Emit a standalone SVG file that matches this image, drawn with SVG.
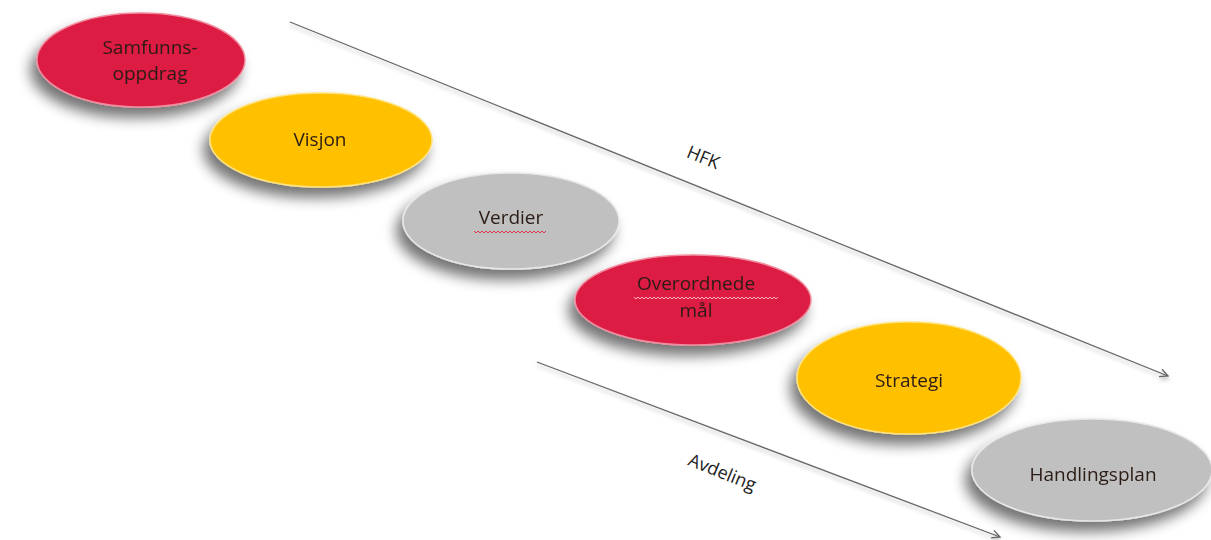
<svg xmlns="http://www.w3.org/2000/svg" width="1211" height="540" viewBox="0 0 1211 540">
<defs>
<filter id="sh" x="-30%" y="-30%" width="160%" height="180%">
<feGaussianBlur in="SourceAlpha" stdDeviation="7"/>
<feOffset dx="-6" dy="10" result="b"/>
<feComponentTransfer><feFuncA type="linear" slope="0.55"/></feComponentTransfer>
<feMerge><feMergeNode/><feMergeNode in="SourceGraphic"/></feMerge>
</filter>
<filter id="lsh" x="-5%" y="-50%" width="110%" height="200%">
<feGaussianBlur in="SourceAlpha" stdDeviation="2"/>
<feOffset dx="0" dy="3"/>
<feComponentTransfer><feFuncA type="linear" slope="0.3"/></feComponentTransfer>
<feMerge><feMergeNode/><feMergeNode in="SourceGraphic"/></feMerge>
</filter>
<marker id="ah" viewBox="0 0 10 10" refX="9" refY="5" markerWidth="10" markerHeight="10" markerUnits="userSpaceOnUse" orient="auto">
<path d="M1,1 L9,5 L1,9" fill="none" stroke="#666" stroke-width="1.3"/>
</marker>
</defs>
<style>
.red{fill:#DC1A43;stroke:#f08a9c;stroke-width:1.5}
.yel{fill:#FFC000;stroke:#ffe27a;stroke-width:1.5}
.gry{fill:#C0C0C0;stroke:#e6e6e6;stroke-width:1.5}
.t{font-family:"Open Sans","Liberation Sans",sans-serif;font-size:19px;fill:#2b1b14;text-anchor:middle}
.lbl{font-family:"Open Sans","Liberation Sans",sans-serif;font-size:18px;fill:#222;text-anchor:middle}
.conn{stroke:#666;stroke-width:1.3;fill:none}
.sq{fill:none;stroke:#e0304a;stroke-width:1}
.sq2{fill:none;stroke:#f5b3c0;stroke-width:1}
</style>
<rect width="1211" height="540" fill="#fff"/>
<g id="connectors" filter="url(#lsh)">
<line class="conn" x1="290" y1="22" x2="1168" y2="376" marker-end="url(#ah)"/>
<line class="conn" x1="537" y1="362" x2="1000" y2="537" marker-end="url(#ah)"/>
</g>
<g id="label-hfk"><text class="lbl" transform="translate(701,163) rotate(22)">HFK</text></g>
<g id="label-avdeling"><text class="lbl" transform="translate(720,478) rotate(22)">Avdeling</text></g>
<g id="n1" filter="url(#sh)">
<ellipse class="red" cx="141" cy="60" rx="104" ry="47"/>
<text class="t" x="150" y="54">Samfunns-</text>
<text class="t" x="150" y="80">oppdrag</text>
</g>
<g id="n2" filter="url(#sh)">
<ellipse class="yel" cx="321" cy="140" rx="111" ry="47"/>
<text class="t" x="320" y="146">Visjon</text>
</g>
<g id="n3" filter="url(#sh)">
<ellipse class="gry" cx="511" cy="221" rx="108" ry="48"/>
<text class="t" x="511" y="224">Verdier</text>
<path class="sq" d="M474,231 l2,2 l2,-2 l2,2 l2,-2 l2,2 l2,-2 l2,2 l2,-2 l2,2 l2,-2 l2,2 l2,-2 l2,2 l2,-2 l2,2 l2,-2 l2,2 l2,-2 l2,2 l2,-2 l2,2 l2,-2 l2,2 l2,-2 l2,2 l2,-2 l2,2 l2,-2 l2,2 l2,-2 l2,2 l2,-2 l2,2 l2,-2 l2,2 l2,-2"/>
</g>
<g id="n4" filter="url(#sh)">
<ellipse class="red" cx="693" cy="300" rx="118" ry="45"/>
<text class="t" x="696" y="290">Overordnede</text>
<text class="t" x="696" y="317">mål</text>
<path class="sq2" d="M634,297 l2,2 l2,-2 l2,2 l2,-2 l2,2 l2,-2 l2,2 l2,-2 l2,2 l2,-2 l2,2 l2,-2 l2,2 l2,-2 l2,2 l2,-2 l2,2 l2,-2 l2,2 l2,-2 l2,2 l2,-2 l2,2 l2,-2 l2,2 l2,-2 l2,2 l2,-2 l2,2 l2,-2 l2,2 l2,-2 l2,2 l2,-2 l2,2 l2,-2 l2,2 l2,-2 l2,2 l2,-2 l2,2 l2,-2 l2,2 l2,-2 l2,2 l2,-2 l2,2 l2,-2 l2,2 l2,-2 l2,2 l2,-2 l2,2 l2,-2 l2,2 l2,-2 l2,2 l2,-2 l2,2 l2,-2 l2,2 l2,-2 l2,2 l2,-2 l2,2 l2,-2 l2,2 l2,-2 l2,2 l2,-2 l2,2 l2,-2"/>
</g>
<g id="n5" filter="url(#sh)">
<ellipse class="yel" cx="909" cy="378" rx="112" ry="56"/>
<text class="t" x="909" y="387">Strategi</text>
</g>
<g id="n6" filter="url(#sh)">
<ellipse class="gry" cx="1092" cy="470" rx="120" ry="51"/>
<text class="t" x="1093" y="481">Handlingsplan</text>
</g>
</svg>
